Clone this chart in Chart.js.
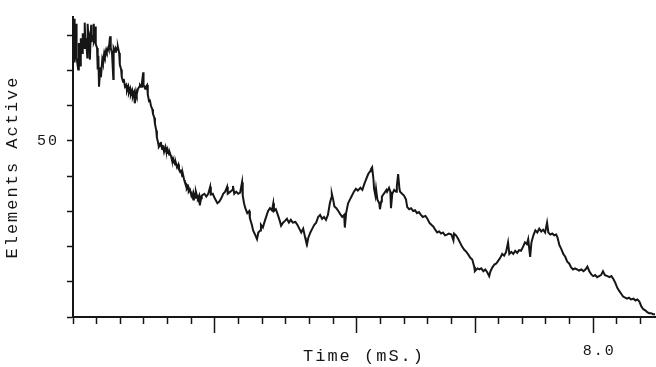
<!DOCTYPE html>
<html>
<head>
<meta charset="utf-8">
<script src="https://cdn.jsdelivr.net/npm/chart.js@4.4.1/dist/chart.umd.min.js"></script>
<style>
  body { margin: 0; background: #fff; }
  #wrap { width: 656px; height: 367px; position: relative; }
</style>
</head>
<body>
<div id="wrap"><canvas id="activeChart"></canvas></div>
<script>
// time in ms
const timeMs = [
    0.01, 0.02, 0.02, 0.03, 0.04, 0.05, 0.05, 0.06, 0.08, 0.09,
    0.11, 0.12, 0.14, 0.15, 0.17, 0.18, 0.19, 0.20, 0.22, 0.22,
    0.23, 0.24, 0.25, 0.26, 0.27, 0.28, 0.28, 0.29, 0.31, 0.32,
    0.32, 0.34, 0.35, 0.35, 0.37, 0.38, 0.39, 0.40, 0.42, 0.43,
    0.45, 0.46, 0.48, 0.49, 0.51, 0.52, 0.54, 0.55, 0.57, 0.58,
    0.58, 0.60, 0.62, 0.62, 0.63, 0.65, 0.66, 0.68, 0.69, 0.71,
    0.72, 0.74, 0.75, 0.77, 0.78, 0.80, 0.82, 0.83, 0.85, 0.86,
    0.88, 0.89, 0.91, 0.92, 0.94, 0.95, 0.97, 0.98, 1.00, 1.02,
    1.03, 1.05, 1.06, 1.08, 1.08, 1.09, 1.11, 1.12, 1.14, 1.15,
    1.17, 1.18, 1.20, 1.22, 1.23, 1.25, 1.26, 1.28, 1.29, 1.31,
    1.32, 1.34, 1.35, 1.37, 1.38, 1.40, 1.42, 1.43, 1.45, 1.46,
    1.48, 1.49, 1.51, 1.52, 1.54, 1.55, 1.57, 1.58, 1.60, 1.62,
    1.63, 1.65, 1.66, 1.68, 1.69, 1.71, 1.72, 1.74, 1.75, 1.77,
    1.78, 1.80, 1.82, 1.83, 1.85, 1.86, 1.88, 1.89, 1.91, 1.92,
    1.94, 1.95, 1.97,
    1.98, 2.02, 2.05, 2.08, 2.11, 2.12, 2.15, 2.18, 2.22, 2.25,
    2.28, 2.31, 2.34, 2.37, 2.38, 2.42, 2.45, 2.46, 2.48, 2.51,
    2.54, 2.57, 2.60, 2.61, 2.63, 2.65, 2.68, 2.71, 2.72, 2.75,
    2.77, 2.80, 2.83, 2.85, 2.88, 2.89, 2.92, 2.95, 2.98, 3.00,
    3.03, 3.06, 3.08, 3.09, 3.12, 3.15, 3.18, 3.20, 3.23, 3.26,
    3.29, 3.32, 3.35, 3.38, 3.42, 3.45, 3.48, 3.51, 3.54, 3.57,
    3.58, 3.60, 3.62, 3.65, 3.68, 3.71, 3.74, 3.77, 3.80, 3.83,
    3.86, 3.89, 3.92, 3.95, 3.97, 3.98, 4.00, 4.02, 4.05, 4.08,
    4.11, 4.14, 4.17, 4.18, 4.20, 4.23, 4.26, 4.29, 4.32, 4.35,
    4.38, 4.42, 4.45, 4.48, 4.51, 4.54, 4.57, 4.58, 4.60, 4.62,
    4.63, 4.65, 4.66, 4.68, 4.71, 4.72, 4.74, 4.75, 4.78, 4.82,
    4.83, 4.86, 4.88, 4.89, 4.91, 4.94, 4.97, 4.98, 5.00, 5.02,
    5.03, 5.06, 5.09, 5.12, 5.14, 5.17, 5.20, 5.23, 5.26, 5.29,
    5.32, 5.35, 5.38, 5.42, 5.45, 5.48, 5.51, 5.54, 5.57, 5.60,
    5.63, 5.66, 5.69, 5.72, 5.75, 5.78,
    5.82, 5.85, 5.86, 5.89, 5.92, 5.95, 5.98, 6.02, 6.05, 6.08,
    6.11, 6.14, 6.17, 6.18, 6.22, 6.25, 6.28, 6.31, 6.34, 6.37,
    6.40, 6.42, 6.45, 6.48, 6.51, 6.54, 6.57, 6.60, 6.63, 6.66,
    6.69, 6.71, 6.74, 6.77, 6.80, 6.83, 6.86, 6.89, 6.92, 6.95,
    6.98, 7.00, 7.03, 7.05, 7.08, 7.11, 7.14, 7.17, 7.20, 7.23,
    7.26, 7.29, 7.31, 7.34, 7.37, 7.40, 7.43, 7.45, 7.48, 7.51,
    7.54, 7.57, 7.60, 7.63, 7.66, 7.69, 7.72, 7.75, 7.78, 7.82,
    7.85, 7.88, 7.91, 7.94, 7.97, 8.00, 8.03, 8.06, 8.09, 8.12,
    8.15, 8.18, 8.22, 8.25, 8.28, 8.31, 8.34, 8.37, 8.40, 8.43,
    8.46, 8.49, 8.52, 8.55, 8.58, 8.62, 8.65, 8.68, 8.71, 8.74,
    8.77, 8.80, 8.83, 8.86, 8.89, 8.92, 8.95
];

const elementsActive = [
    84.1, 76.4, 84.7, 72.3, 81.9, 75.0, 83.3, 73.7, 70.3, 77.8,
    71.4, 79.2, 75.0, 80.6, 76.4, 83.6, 77.8, 79.2, 73.7, 79.7,
    83.3, 78.3, 79.2, 73.1, 79.2, 83.0, 78.1, 78.6, 79.7, 83.3,
    78.1, 79.2, 82.5, 77.5, 76.4, 70.3, 74.2, 65.4, 70.9, 68.1,
    73.1, 72.3, 75.0, 74.2, 75.9, 75.3, 76.4, 75.9, 79.7, 75.9,
    76.4, 75.0, 67.6, 75.9, 76.4, 75.3, 76.4, 75.9, 76.7, 75.0,
    71.7, 70.3, 68.1, 66.8, 67.6, 65.4, 65.9, 64.3, 65.4, 63.7,
    64.8, 63.2, 64.3, 62.6, 63.7, 60.7, 64.0, 63.2, 64.8, 65.4,
    65.9, 65.4, 66.5, 69.5, 65.4, 65.9, 64.8, 65.4, 65.9, 63.2,
    61.2, 61.8, 59.9, 59.0, 57.7, 56.6, 54.9, 53.0, 51.0, 49.4,
    48.3, 48.8, 49.7, 47.7, 48.8, 46.9, 48.3, 47.4, 46.6, 47.2,
    46.1, 46.6, 45.5, 44.7, 43.9, 44.4, 43.3, 43.9, 42.5, 43.3,
    41.9, 41.1, 41.9, 40.0, 40.6, 38.9, 38.3, 37.8, 36.4, 37.0,
    35.6, 36.1, 34.5, 35.0, 33.4, 35.0, 33.9, 35.6, 34.2, 33.7,
    34.5, 31.7, 33.7,
    34.5, 35.0, 34.2, 35.0, 37.0, 34.8, 35.0, 33.7, 32.3, 32.8,
    33.7, 35.0, 35.6, 37.0, 35.0, 35.6, 36.1, 37.2, 35.0, 35.6,
    35.0, 35.3, 38.3, 34.5, 32.3, 30.9, 29.5, 30.1, 28.1, 26.2,
    24.6, 23.4, 22.1, 24.0, 24.6, 26.2, 25.4, 27.3, 29.0, 30.1,
    30.9, 30.3, 32.3, 30.1, 30.6, 29.0, 27.3, 25.9, 26.8, 27.3,
    27.9, 26.8, 27.6, 26.8, 27.0, 26.2, 25.1, 24.0, 25.1, 22.6,
    21.8, 20.7, 22.6, 24.0, 25.1, 26.2, 26.8, 28.4, 29.0, 27.9,
    28.4, 27.6, 29.0, 32.3, 33.7, 35.0, 33.4, 31.4, 30.9, 30.1,
    29.2, 28.4, 29.0, 25.4, 29.5, 32.3, 33.4, 34.5, 35.6, 36.4,
    35.9, 36.7, 36.1, 37.8, 39.2, 40.6, 41.4, 41.9, 42.5, 39.2,
    36.4, 34.5, 36.4, 33.4, 32.3, 30.6, 32.8, 34.2, 35.0, 36.1,
    35.6, 36.7, 35.6, 30.9, 35.0, 36.1, 35.6, 37.2, 40.6, 36.4,
    35.6, 35.0, 34.5, 33.4, 31.2, 30.6, 30.9, 30.1, 30.3, 29.5,
    29.8, 29.0, 28.4, 28.7, 27.9, 26.8, 26.2, 25.7, 24.8, 24.0,
    24.3, 23.7, 24.0, 23.2, 23.4, 23.7,
    23.4, 21.8, 23.7, 23.2, 22.3, 21.2, 20.1, 19.0, 18.5, 17.7,
    16.8, 16.3, 14.3, 13.0, 13.8, 13.5, 13.8, 13.0, 13.5, 12.7,
    11.6, 13.0, 14.1, 14.9, 15.2, 16.0, 16.8, 17.9, 17.4, 18.5,
    21.2, 17.9, 18.5, 17.9, 18.8, 18.2, 19.0, 18.8, 19.9, 21.2,
    20.7, 22.1, 17.1, 21.2, 23.2, 24.6, 24.0, 25.1, 24.3, 24.8,
    24.0, 26.8, 24.0, 23.4, 23.7, 23.2, 23.4, 22.6, 20.4, 19.3,
    17.9, 17.1, 15.7, 15.2, 14.1, 13.5, 13.8, 13.5, 13.2, 13.5,
    13.0, 13.5, 14.3, 13.0, 12.1, 11.6, 11.9, 11.3, 11.6, 11.9,
    13.0, 11.9, 11.6, 11.3, 11.6, 10.8, 9.7, 8.3, 7.4, 6.6,
    5.8, 5.5, 5.2, 5.5, 5.0, 5.2, 4.7, 5.0, 4.4, 3.0,
    2.2, 1.9, 1.4, 1.1, 1.1, 0.8, 0.8
];

// axis tick marks
const xTickValues = [0, 0.364, 0.727, 1.091, 1.455, 1.818, 2.182, 2.545, 2.909, 3.273,
    3.636, 4.0, 4.364, 4.727, 5.091, 5.455, 5.818, 6.182, 6.545, 6.909,
    7.273, 7.636, 8.0, 8.364, 8.727];
const xMajorTicks = [2.182, 4.364, 6.182, 8.0];
const xTickLabels = [8.0];
const yTickValues = [0, 10, 20, 30, 40, 50, 60, 70, 80];
const yTickLabels = [50];

const ink = '#161616';
const monoFont = 'Liberation Mono, DejaVu Sans Mono, monospace';

const points = timeMs.map((t, i) => ({x: t, y: elementsActive[i]}));

function near(list, v){
    return list.some(m => Math.abs(m - v) < 0.01);
}

// typewriter-ish spacing for the labels
const wideText = {
    id: 'wideText',
    beforeDraw(chart){
        chart.ctx.letterSpacing = '2px';
    }
};

new Chart(
    document.getElementById('activeChart'),
    {
        type: 'line',
        data: {
            datasets: [{
                data: points,
                borderColor: ink,
                borderWidth: 2,
                pointRadius: 0,
                tension: 0,
                fill: false
            }]
        },
        options: {
            responsive: true,
            maintainAspectRatio: false,
            animation: false,
            devicePixelRatio: 1,
            layout: { padding: { top: 8, right: 1, left: 0, bottom: 0 } },
            plugins: {
                legend: { display: false },
                tooltip: { enabled: false }
            },
            scales: {
                x: {
                    type: 'linear',
                    min: 0,
                    max: 8.95,
                    afterBuildTicks: s => { s.ticks = xTickValues.map(v => ({value: v})); },
                    afterFit: s => { s.height = 50; },
                    border: { color: ink, width: 2 },
                    grid: {
                        drawOnChartArea: false,
                        tickLength: 16,
                        tickWidth: 1.5,
                        tickColor: ink,
                        tickBorderDash: ctx => (ctx.tick && near(xMajorTicks, ctx.tick.value)) ? [] : [6, 40]
                    },
                    ticks: {
                        autoSkip: false,
                        maxRotation: 0,
                        padding: 9,
                        labelOffset: 6,
                        color: ink,
                        font: { family: monoFont, size: 15 },
                        callback: v => near(xTickLabels, v) ? v.toFixed(1) : ''
                    },
                    title: {
                        display: true,
                        text: 'Time (mS.)',
                        color: ink,
                        padding: 0,
                        font: { family: monoFont, size: 17 }
                    }
                },
                y: {
                    type: 'linear',
                    min: 0,
                    max: 85.2,
                    afterBuildTicks: s => { s.ticks = yTickValues.map(v => ({value: v})); },
                    afterFit: s => { s.width = 73; },
                    border: { color: ink, width: 2 },
                    grid: {
                        drawOnChartArea: false,
                        tickLength: 6,
                        tickWidth: 1.5,
                        tickColor: ink
                    },
                    ticks: {
                        padding: 8,
                        color: ink,
                        font: { family: monoFont, size: 15 },
                        callback: v => yTickLabels.includes(v) ? String(v) : ''
                    },
                    title: {
                        display: true,
                        text: 'Elements Active',
                        color: ink,
                        padding: { top: 2, bottom: 0 },
                        font: { family: monoFont, size: 17 }
                    }
                }
            }
        },
        plugins: [wideText]
    }
);
</script>
</body>
</html>
